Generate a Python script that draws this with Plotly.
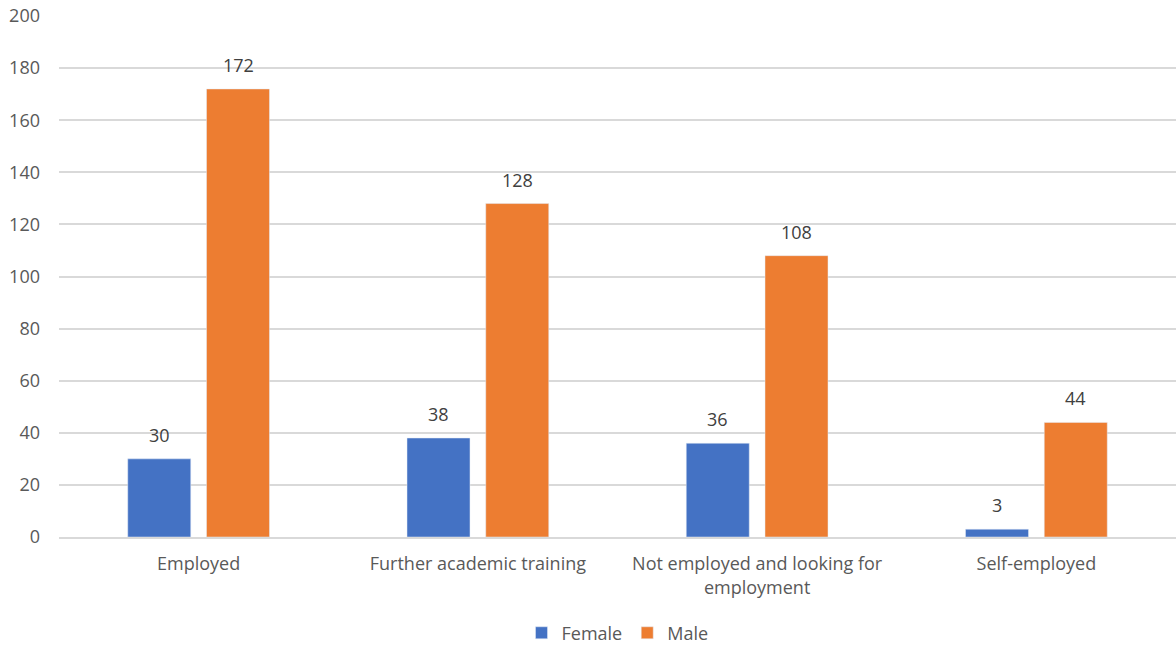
import plotly.graph_objects as go

categories = ["Employed", "Further academic training",
              "Not employed and looking for<br>employment", "Self-employed"]
female = [30, 38, 36, 3]
male = [172, 128, 108, 44]
y_ticks = [0, 20, 40, 60, 80, 100, 120, 140, 160, 180, 200]

FONT = "Open Sans"
TEXT = "#595959"
LABEL = "#404040"
SIZE = 18

W, H = 1176, 646
M = dict(l=59, r=0, t=16, b=109)
BARGAP, GROUPGAP = 0.436, 0.2

fig = go.Figure()
fig.add_trace(go.Bar(name="Female", x=categories, y=female, marker_color="#4472C4"))
fig.add_trace(go.Bar(name="Male", x=categories, y=male, marker_color="#ED7D31"))

# value labels above each bar, centred on its slot within the group
cat_px = (W - M["l"] - M["r"]) / len(categories)
slot_px = cat_px * (1 - BARGAP) / 2
for series, sign in ((female, -1), (male, 1)):
    for cat, val in zip(categories, series):
        fig.add_annotation(
            x=cat, y=val, xref="x", yref="y", text=str(val), showarrow=False,
            xshift=sign * slot_px / 2, yshift=10, yanchor="bottom",
            font=dict(family=FONT, size=SIZE, color=LABEL),
        )

fig.update_layout(
    width=W, height=H, margin=M,
    paper_bgcolor="white", plot_bgcolor="white",
    barmode="group", bargap=BARGAP, bargroupgap=GROUPGAP,
    font=dict(family=FONT, size=SIZE, color=TEXT),
    legend=dict(orientation="h", x=0.5, xanchor="center",
                yref="container", y=0.02, yanchor="middle",
                font=dict(family=FONT, size=SIZE, color=TEXT), itemwidth=30),
)
fig.update_yaxes(range=[0, 200], tickvals=y_ticks, showgrid=True, gridcolor="#D9D9D9",
                 gridwidth=1.5, zeroline=False, ticks="", ticklabelstandoff=18,
                 automargin=False,
                 tickfont=dict(family=FONT, size=SIZE, color=TEXT))
fig.update_xaxes(showline=True, linecolor="#D9D9D9", linewidth=1.5, ticks="",
                 ticklabelstandoff=10, automargin=False,
                 tickfont=dict(family=FONT, size=SIZE, color=TEXT))

fig.write_html("out.html")
